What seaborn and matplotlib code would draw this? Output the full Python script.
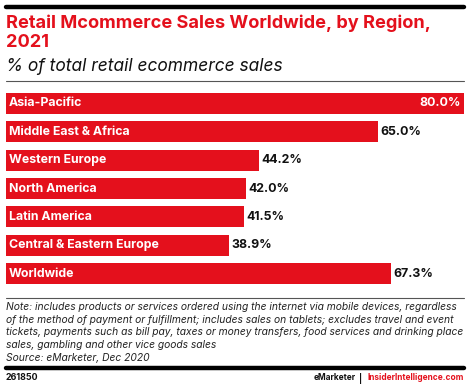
import matplotlib
matplotlib.use("Agg")
import matplotlib.pyplot as plt
import seaborn as sns
import pandas as pd
from matplotlib.lines import Line2D

regions = ["Asia-Pacific", "Middle East & Africa", "Western Europe", "North America",
           "Latin America", "Central & Eastern Europe", "Worldwide"]
values = [80.0, 65.0, 44.2, 42.0, 41.5, 38.9, 67.3]
value_labels = ["80.0%", "65.0%", "44.2%", "42.0%", "41.5%", "38.9%", "67.3%"]

title = "Retail Mcommerce Sales Worldwide, by Region,\n2021"
subtitle = "% of total retail ecommerce sales"
note = ("Note: includes products or services ordered using the internet via mobile devices, regardless\n"
        "of the method of payment or fulfillment; includes sales on tablets; excludes travel and event\n"
        "tickets, payments such as bill pay, taxes or money transfers, food services and drinking place\n"
        "sales, gambling and other vice goods sales\n"
        "Source: eMarketer, Dec 2020")
chart_id = "261850"

RED = "#E4101C"
W, H = 470, 388
FONT = "Inter"

sns.set_theme(style="white")
plt.rcParams["font.family"] = [FONT, "DejaVu Sans"]

fig = plt.figure(figsize=(W / 100, H / 100), dpi=100)
fig.patch.set_facecolor("white")

def fx(px):
    return px / W

def fy(py):
    return 1 - py / H

ax = fig.add_axes([fx(6), fy(284), fx(464) - fx(6), fy(93) - fy(284)])
df = pd.DataFrame({"region": regions, "value": values})
sns.barplot(data=df, x="value", y="region", orient="h", color=RED, saturation=1,
            width=0.74, ax=ax, edgecolor="none")
ax.set_xlim(0, 80)
ax.set_ylim(len(regions) - 1 + 0.37, -0.37)
ax.axis("off")

for i, (r, v, lab) in enumerate(zip(regions, values, value_labels)):
    ax.text(0.5, i, r, color="white", fontsize=8.9, fontweight="bold",
            va="center", ha="left")
    if v >= 75:
        ax.text(v - 0.6, i, lab, color="white", fontsize=8.9, fontweight="bold",
                va="center", ha="right")
    else:
        ax.text(v + 0.4, i, lab, color="#111111", fontsize=8.9, fontweight="bold",
                va="center", ha="left")

# rules
fig.add_artist(Line2D([fx(6), fx(464)], [fy(7), fy(7)], color="black", lw=3.2))
fig.add_artist(Line2D([fx(6), fx(464)], [fy(81), fy(81)], color="#555555", lw=0.8))
fig.add_artist(Line2D([fx(6), fx(464)], [fy(298), fy(298)], color="#555555", lw=0.8))
fig.add_artist(Line2D([fx(6), fx(464)], [fy(368), fy(368)], color="black", lw=3.2))

fig.text(fx(6), fy(14), title, color=RED, fontsize=13.1, fontweight="bold",
         va="top", ha="left", linespacing=1.2)
fig.text(fx(6), fy(58), subtitle, color="#111111", fontsize=12.5, style="italic",
         va="top", ha="left")
fig.text(fx(6), fy(302), note, color="#222222", fontsize=7.4, style="italic",
         va="top", ha="left", linespacing=1.33)
fig.text(fx(6), fy(378), chart_id, color="#111111", fontsize=6.4, fontweight="bold",
         va="center", ha="left")

fig.canvas.draw()
renderer = fig.canvas.get_renderer()
t1 = fig.text(fx(464), fy(378), "InsiderIntelligence.com", color=RED, fontsize=6.0,
              fontweight="bold", va="center", ha="right")
bb = t1.get_window_extent(renderer)
fig.text((bb.x0 - 5) / W, fy(378), "|", color="#111111", fontsize=6.0,
         fontweight="bold", va="center", ha="right")
fig.text((bb.x0 - 12) / W, fy(378), "eMarketer", color="#111111", fontsize=6.0,
         fontweight="bold", va="center", ha="right")

fig.savefig("out.png", dpi=100, facecolor="white")
